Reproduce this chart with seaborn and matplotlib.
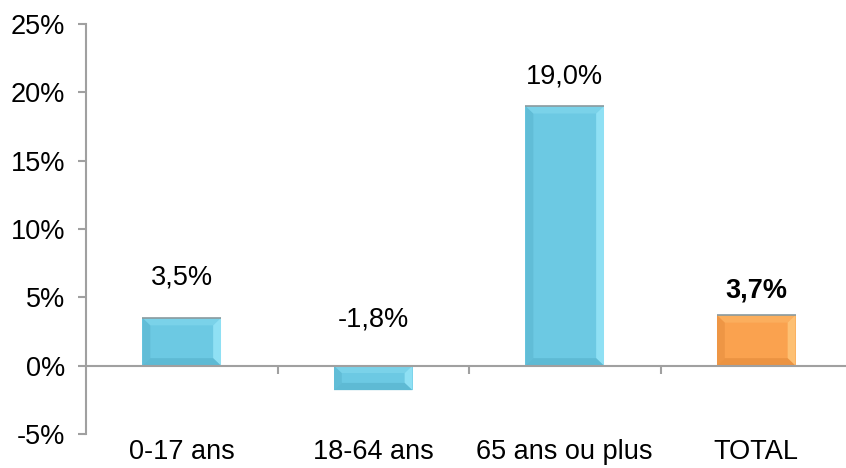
import matplotlib
matplotlib.use("Agg")
import matplotlib.pyplot as plt
import seaborn as sns
import pandas as pd
from matplotlib.patches import Polygon
import matplotlib.transforms as mtransforms

categories = ["0-17 ans", "18-64 ans", "65 ans ou plus", "TOTAL"]
values = [3.5, -1.8, 19.0, 3.7]
value_labels = ["3,5%", "-1,8%", "19,0%", "3,7%"]
yticks = [-5, 0, 5, 10, 15, 20, 25]
ytick_labels = ["-5%", "0%", "5%", "10%", "15%", "20%", "25%"]

# layout / style
label_offsets_px = [40, 46, 30, 25]
bold_flags = [False, False, False, True]
base_colors = ["#6CC9E3", "#6CC9E3", "#6CC9E3", "#FAA24F"]
dark_colors = ["#4FA8C2", "#4FA8C2", "#4FA8C2", "#D98234"]
light_colors = ["#9BE8FA", "#9BE8FA", "#9BE8FA", "#FFCB80"]
FS = 19.5

sns.set_theme(style="white")
plt.rcParams['font.family'] = ['Liberation Sans', 'DejaVu Sans']

df = pd.DataFrame({"cat": categories, "val": values})

fig = plt.figure(figsize=(8.46, 4.68), dpi=100)
ax = fig.add_axes([86 / 846, 34 / 468, (4 * 191.5) / 846, 410 / 468])

sns.barplot(data=df, x="cat", y="val", hue="cat", palette=base_colors,
            legend=False, width=0.41, ax=ax, saturation=1, edgecolor="none")

ax.set_xlim(-0.5, 3.5)
ax.set_ylim(-5, 25)

# bevel overlays derived from drawn bars
for i, p in enumerate(ax.patches):
    x0, y0 = p.get_x(), p.get_y()
    w, h = p.get_width(), p.get_height()
    x1 = x0 + w
    ylo, yhi = min(y0, y0 + h), max(y0, y0 + h)
    bx = w * 0.10
    by = min(0.55, (yhi - ylo) * 0.3)
    # left (dark)
    ax.add_patch(Polygon([(x0, ylo), (x0 + bx, ylo + by), (x0 + bx, yhi - by), (x0, yhi)],
                         closed=True, facecolor=dark_colors[i], edgecolor="none", alpha=0.35))
    # right (light)
    ax.add_patch(Polygon([(x1, ylo), (x1 - bx, ylo + by), (x1 - bx, yhi - by), (x1, yhi)],
                         closed=True, facecolor=light_colors[i], edgecolor="none", alpha=0.75))
    # bottom (dark)
    ax.add_patch(Polygon([(x0, ylo), (x1, ylo), (x1 - bx, ylo + by), (x0 + bx, ylo + by)],
                         closed=True, facecolor=dark_colors[i], edgecolor="none", alpha=0.45))
    # top (light)
    ax.add_patch(Polygon([(x0, yhi), (x1, yhi), (x1 - bx, yhi - by), (x0 + bx, yhi - by)],
                         closed=True, facecolor=light_colors[i], edgecolor="none", alpha=0.3))
    ax.plot([x0, x1], [yhi, yhi], color="#8A9A9E", lw=1.2, solid_capstyle="butt")

# value labels
for i, v in enumerate(values):
    off = mtransforms.offset_copy(ax.transData, fig=fig, x=0, y=label_offsets_px[i] * 0.72, units="points")
    ax.text(i, max(v, 0), value_labels[i], transform=off, ha="center", va="center",
            fontsize=FS, fontweight="bold" if bold_flags[i] else "normal", color="black")

# axes styling
for s in ["top", "right"]:
    ax.spines[s].set_visible(False)
ax.spines["left"].set_color("#A0A0A0")
ax.spines["left"].set_linewidth(1.5)
ax.spines["bottom"].set_position(("data", 0))
ax.spines["bottom"].set_color("#A0A0A0")
ax.spines["bottom"].set_linewidth(1.5)

ax.set_yticks(yticks)
ax.set_yticklabels(ytick_labels, fontsize=FS)
ax.tick_params(axis="y", direction="out", length=6, width=1.5, color="#A0A0A0",
               left=True, pad=9, labelcolor="black")

ax.set_xticks([0.5, 1.5, 2.5])
ax.set_xticklabels([])
ax.tick_params(axis="x", direction="out", length=6, width=1.5, color="#A0A0A0", bottom=True)
ax.set_xlabel("")
ax.set_ylabel("")

blend = mtransforms.blended_transform_factory(ax.transData, ax.transAxes)
for i, c in enumerate(categories):
    ax.text(i, -0.045, c, transform=blend, ha="center", va="center", fontsize=FS, color="black")

fig.savefig("out.png", dpi=100)
